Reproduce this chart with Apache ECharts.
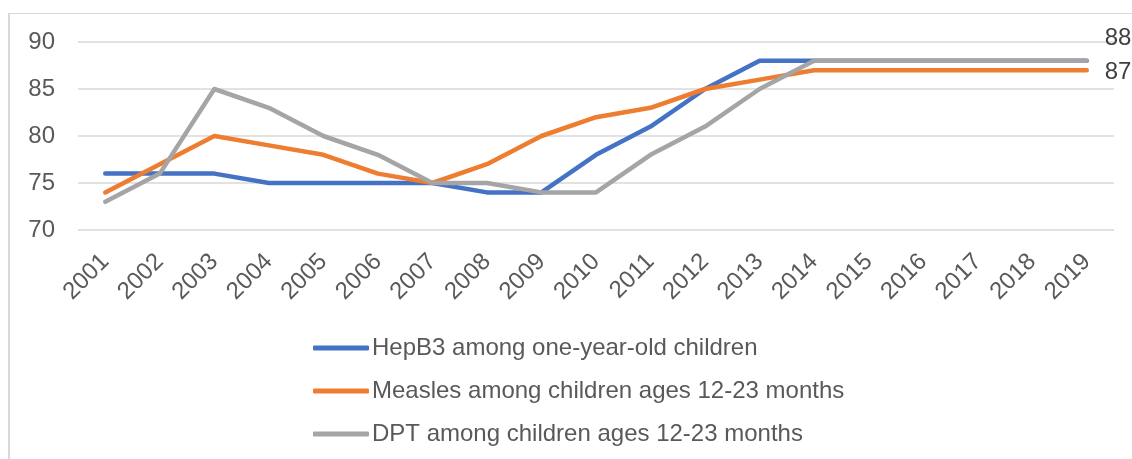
<!DOCTYPE html>
<html>
<head>
<meta charset="utf-8">
<script src="https://cdn.jsdelivr.net/npm/echarts@6/dist/echarts.min.js"></script>
<style>
  html, body { margin: 0; padding: 0; background: #fff; overflow: hidden; }
  #chart { width: 1132px; height: 459px; }
  #frame {
    position: absolute; left: 8px; top: 13px; width: 1200px; height: 500px;
    border-left: 2px solid #d9d9d9; border-top: 1px solid #d9d9d9;
    pointer-events: none;
  }
</style>
</head>
<body>
<div id="chart"></div>
<div id="frame"></div>
<script>
var years = ['2001', '2002', '2003', '2004', '2005', '2006', '2007', '2008', '2009', '2010',
  '2011', '2012', '2013', '2014', '2015', '2016', '2017', '2018', '2019']
var hepB3 = [76, 76, 76, 75, 75, 75, 75, 74, 74, 78, 81, 85, 88, 88, 88, 88, 88, 88, 88]
var measles = [74, 77, 80, 79, 78, 76, 75, 77, 80, 82, 83, 85, 86, 87, 87, 87, 87, 87, 87]
var dpt = [73, 76, 85, 83, 80, 78, 75, 75, 74, 74, 78, 81, 85, 88, 88, 88, 88, 88, 88]
var names = ['HepB3 among one-year-old children', 'Measles among children ages 12-23 months', 'DPT among children ages 12-23 months']
var colors = ['#4472C4', '#ED7D31', '#A5A5A5']

var font = 'Liberation Sans, Arial, sans-serif'

// only the last value gets a label, like the original
function lineSeries (idx, values, labelOffset) {
  return {
    name: names[idx],
    type: 'line',
    symbol: 'none',
    data: values,
    lineStyle: { width: 4.5, color: colors[idx], cap: 'round', join: 'round' },
    itemStyle: { color: colors[idx] },
    endLabel: {
      show: !!labelOffset,
      formatter: '{c}',
      distance: 18,
      offset: labelOffset || [0, 0],
      color: '#404040',
      fontSize: 24,
      fontFamily: font
    },
    emphasis: { disabled: true }
  }
}

var chart = echarts.init(document.getElementById('chart'))
chart.setOption({
  animation: false,
  grid: { left: 78, right: 18, top: 42, height: 188 },
  legend: {
    orient: 'vertical',
    left: 313,
    top: 336,
    padding: 0,
    icon: 'roundRect',
    itemWidth: 56,
    itemHeight: 5,
    itemGap: 19,
    textStyle: { color: '#595959', fontSize: 24, fontFamily: font, lineHeight: 24, padding: [0, 0, 0, -2] },
    data: names
  },
  xAxis: {
    type: 'category',
    data: years,
    boundaryGap: true,
    axisLine: { show: false },
    axisTick: { show: false },
    axisLabel: { rotate: 45, margin: 28, color: '#595959', fontSize: 24, fontFamily: font, interval: 0 }
  },
  yAxis: {
    type: 'value',
    min: 70,
    max: 90,
    interval: 5,
    axisLine: { show: false },
    axisTick: { show: false },
    axisLabel: { margin: 23, color: '#595959', fontSize: 24, fontFamily: font },
    splitLine: { lineStyle: { color: '#d9d9d9', width: 1.5 } }
  },
  series: [
    lineSeries(0, hepB3, null),
    lineSeries(1, measles, [0, 2]),
    lineSeries(2, dpt, [0, -22])
  ]
})
</script>
</body>
</html>
